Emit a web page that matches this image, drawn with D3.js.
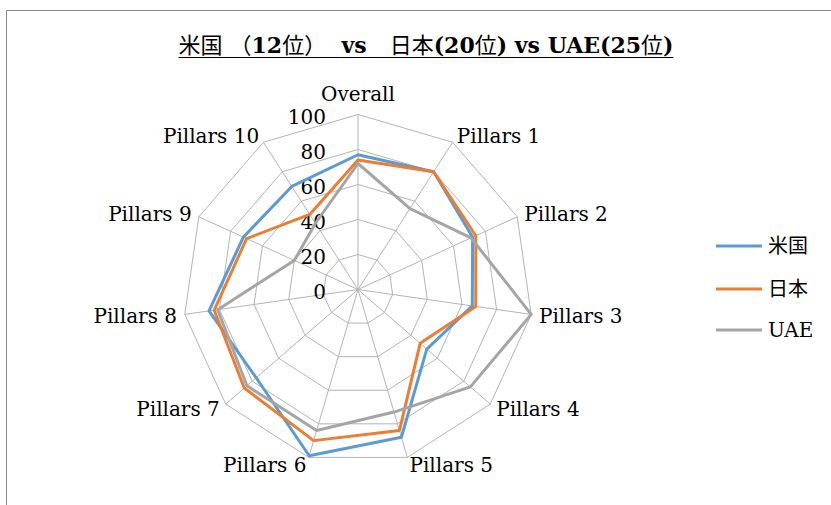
<!DOCTYPE html>
<html>
<head>
<meta charset="utf-8">
<script src="https://cdn.jsdelivr.net/npm/d3@7"></script>
<style>
  body { margin: 0; background: #fff; }
  svg text { font-family: "DejaVu Serif", "Noto Sans CJK JP", serif; fill: #000; }
</style>
</head>
<body>
<svg width="831" height="505"></svg>
<script>
// 軸ラベル
const axes = ["Overall", "Pillars 1", "Pillars 2", "Pillars 3", "Pillars 4", "Pillars 5",
              "Pillars 6", "Pillars 7", "Pillars 8", "Pillars 9", "Pillars 10"];
// 各国スコア
const usValues    = [77, 80, 72, 66, 52, 88, 99, 77, 86, 72, 70];
const japanValues = [74, 80, 74, 68, 47, 84, 90, 86, 83, 70, 51];
const uaeValues   = [72, 55, 71, 100, 85, 73, 84, 84, 81, 40, 45];
const seriesNames = ["米国", "日本", "UAE"];
const seriesColors = ["#5B9BD5", "#ED7D31", "#A5A5A5"];
const ticks = [0, 20, 40, 60, 80, 100];
// タイトル（CJK部分は細字）
const titleParts = [
  ["米国 ", false], ["（", false], ["12", true], ["位", false], ["）", false],
  ["  vs   ", true], ["日本", false], ["(20", true], ["位", false], [") vs UAE(25", true],
  ["位", false], [")", true]
];

const svg = d3.select("svg");
const cx = 358, cy = 289.5, R = 175;

const r = d3.scaleLinear().domain([0, 100]).range([0, R]);
const angle = d3.scaleLinear().domain([0, axes.length]).range([0, 2 * Math.PI]);

function pt(i, v) {
  const a = angle(i);
  return [cx + r(v) * Math.sin(a), cy - r(v) * Math.cos(a)];
}

// 外枠
svg.append("path")
  .attr("d", "M6.5,505 L6.5,10.5 L831,10.5")
  .attr("fill", "none")
  .attr("stroke", "#8c8c8c")
  .attr("stroke-width", 1);

// タイトル
const titleText = svg.append("text")
  .attr("x", 426)
  .attr("y", 53)
  .attr("text-anchor", "middle")
  .style("font-size", "22px")
  .style("white-space", "pre");
titleText.selectAll("tspan")
  .data(titleParts)
  .join("tspan")
  .style("font-weight", d => d[1] ? "bold" : "normal")
  .text(d => d[0]);
const tb = titleText.node().getBBox();
svg.append("line")
  .attr("x1", tb.x).attr("x2", tb.x + tb.width)
  .attr("y1", 57.5).attr("y2", 57.5)
  .attr("stroke", "#000")
  .attr("stroke-width", 1.2);

// グリッド
const grid = svg.append("g");
ticks.filter(t => t > 0).forEach(t => {
  grid.append("polygon")
    .attr("points", axes.map((d, i) => pt(i, t).join(",")).join(" "))
    .attr("fill", "none")
    .attr("stroke", "#b4b4b4")
    .attr("stroke-width", 1);
});
axes.forEach((d, i) => {
  const p = pt(i, 100);
  grid.append("line")
    .attr("x1", cx).attr("y1", cy)
    .attr("x2", p[0]).attr("y2", p[1])
    .attr("stroke", "#b4b4b4")
    .attr("stroke-width", 1);
});

// 目盛ラベル
svg.append("g").selectAll("text")
  .data(ticks)
  .join("text")
  .attr("x", 326)
  .attr("y", d => cy - r(d) + 2)
  .attr("dy", "0.36em")
  .attr("text-anchor", "end")
  .style("font-size", "20px")
  .text(d => d);

// 系列
const line = d3.lineRadial()
  .angle((d, i) => angle(i))
  .radius(d => r(d))
  .curve(d3.curveLinearClosed);

const data = [usValues, japanValues, uaeValues];
svg.append("g")
  .attr("transform", `translate(${cx},${cy})`)
  .selectAll("path")
  .data(data)
  .join("path")
  .attr("d", line)
  .attr("fill", "none")
  .attr("stroke", (d, i) => seriesColors[i])
  .attr("stroke-width", 3)
  .attr("stroke-linejoin", "round");

// 軸ラベル
svg.append("g").selectAll("text")
  .data(axes)
  .join("text")
  .each(function(d, i) {
    const s = Math.sin(angle(i));
    const t = d3.select(this).style("font-size", "20px").text(d);
    if (i === 0) {
      const p = pt(i, 100);
      t.attr("x", p[0]).attr("y", p[1] - 14).attr("text-anchor", "middle");
    } else {
      const p = pt(i, 104.5);
      t.attr("x", p[0]).attr("y", p[1]).attr("dy", "0.36em")
        .attr("text-anchor", s > 0 ? "start" : "end");
    }
  });

// 凡例
const legend = svg.append("g");
const legendY = [246, 289, 330];
seriesNames.forEach((name, i) => {
  legend.append("line")
    .attr("x1", 716).attr("x2", 762)
    .attr("y1", legendY[i]).attr("y2", legendY[i])
    .attr("stroke", seriesColors[i])
    .attr("stroke-width", 3);
  legend.append("text")
    .attr("x", 768)
    .attr("y", legendY[i])
    .attr("dy", "0.36em")
    .style("font-size", "20px")
    .text(name);
});
</script>
</body>
</html>
